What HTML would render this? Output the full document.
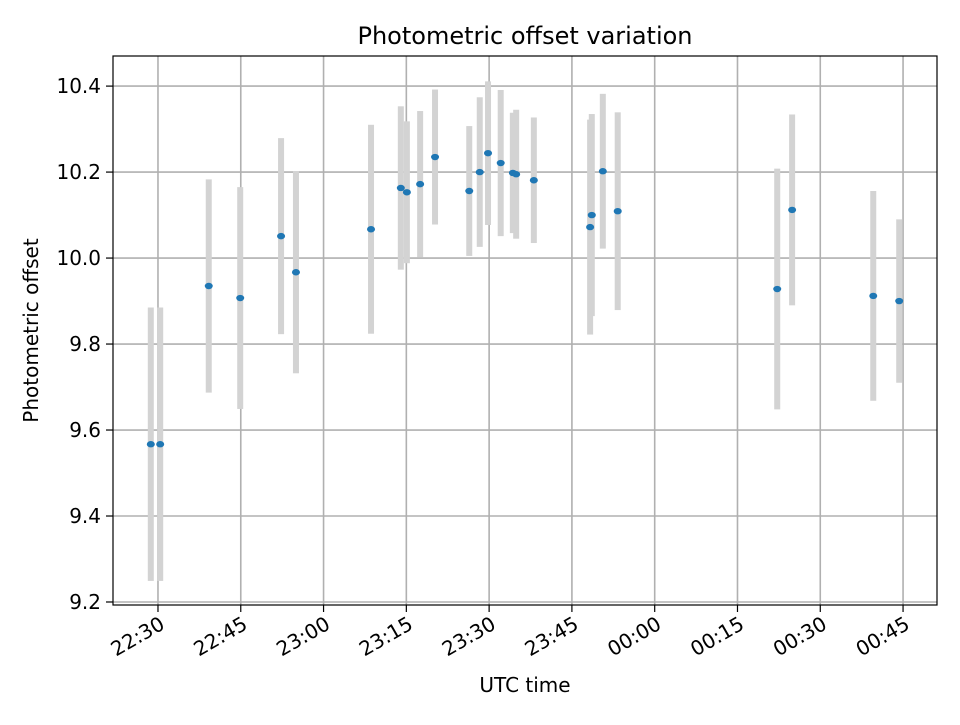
<!DOCTYPE html>
<html><head><meta charset="utf-8"><style>
body{margin:0;background:#fff}
svg{font-family:"DejaVu Sans","Liberation Sans",sans-serif}
</style></head><body>
<svg id="chart" width="960" height="720" xmlns="http://www.w3.org/2000/svg">
<rect width="960" height="720" fill="#fff"/>
<g id="grid"></g><g id="marks"></g><g id="axes"></g>
</svg>
<script>
const times = [-1.3,0.4,9.2,14.9,22.3,25.0,38.6,44.0,45.1,47.5,50.2,56.4,58.3,59.8,62.1,64.3,64.9,68.1,78.3,78.6,80.6,83.3,112.2,114.9,129.6,134.3];
const values = [9.567,9.567,9.935,9.907,10.051,9.967,10.067,10.163,10.153,10.172,10.235,10.156,10.200,10.244,10.221,10.198,10.195,10.181,10.072,10.100,10.202,10.109,9.928,10.112,9.912,9.900];
const errors = [0.318,0.318,0.248,0.258,0.228,0.235,0.243,0.19,0.165,0.17,0.157,0.151,0.174,0.167,0.17,0.14,0.15,0.146,0.25,0.235,0.18,0.23,0.28,0.222,0.244,0.19];
const yTicks = [9.2,9.4,9.6,9.8,10.0,10.2,10.4];
const xTickMinutes = [0,15,30,45,60,75,90,105,120,135];
const xTickLabels = ["22:30","22:45","23:00","23:15","23:30","23:45","00:00","00:15","00:30","00:45"];

const L=113,R=937,T=56,B=605;
const xMin=-8.15,xMax=141.15,yMin=9.193,yMax=10.47;
const xs=m=>L+(m-xMin)/(xMax-xMin)*(R-L);
const ys=v=>B-(v-yMin)/(yMax-yMin)*(B-T);
const NS="http://www.w3.org/2000/svg";
function mk(tag,attrs,parent,text){const e=document.createElementNS(NS,tag);for(const k in attrs)e.setAttribute(k,attrs[k]);if(text!==undefined)e.textContent=text;parent.appendChild(e);return e;}
const grid=document.getElementById('grid'),marks=document.getElementById('marks'),axes=document.getElementById('axes');

yTicks.forEach(t=>{const y=ys(t);
 const g=mk('line',{x1:L,x2:R,y1:y,y2:y,stroke:'#b0b0b0','stroke-width':1.6},grid);
 
 const tk=mk('line',{x1:L-7,x2:L,y1:y,y2:y,stroke:'#000','stroke-width':1.2},axes);
 
 const lb=mk('text',{x:L-12,y:y+7,'text-anchor':'end','font-size':20},axes,t.toFixed(1));
 
});
xTickMinutes.forEach((m,i)=>{const x=xs(m);
 const g=mk('line',{x1:x,x2:x,y1:T,y2:B,stroke:'#b0b0b0','stroke-width':1.6},grid);
 
 const tk=mk('line',{x1:x,x2:x,y1:B,y2:B+7,stroke:'#000','stroke-width':1.2},axes);
 
 const lb=mk('text',{x:x+4,y:B+24,'text-anchor':'end','font-size':20,transform:`rotate(-30 ${x+4} ${B+16})`},axes,xTickLabels[i]);
 
});
times.forEach((m,i)=>{const x=xs(m);
 const b=mk('rect',{x:x-3,y:ys(values[i]+errors[i]),width:6,height:ys(values[i]-errors[i])-ys(values[i]+errors[i]),fill:'#d3d3d3'},marks);
 
});
times.forEach((m,i)=>{
 const p=mk('ellipse',{cx:xs(m),cy:ys(values[i]),rx:4,ry:3.2,fill:'#1f77b4'},marks);
 
});
const fr=mk('rect',{x:L,y:T,width:R-L,height:B-T,fill:'none',stroke:'#000','stroke-width':1.2},axes);

const ti=mk('text',{x:(L+R)/2,y:44,'text-anchor':'middle','font-size':24},axes,'Photometric offset variation');

const xl=mk('text',{x:(L+R)/2,y:692,'text-anchor':'middle','font-size':20},axes,'UTC time');

const yl=mk('text',{x:38,y:(T+B)/2,'text-anchor':'middle','font-size':20,transform:`rotate(-90 38 ${(T+B)/2})`},axes,'Photometric offset');

</script>
</body></html>
